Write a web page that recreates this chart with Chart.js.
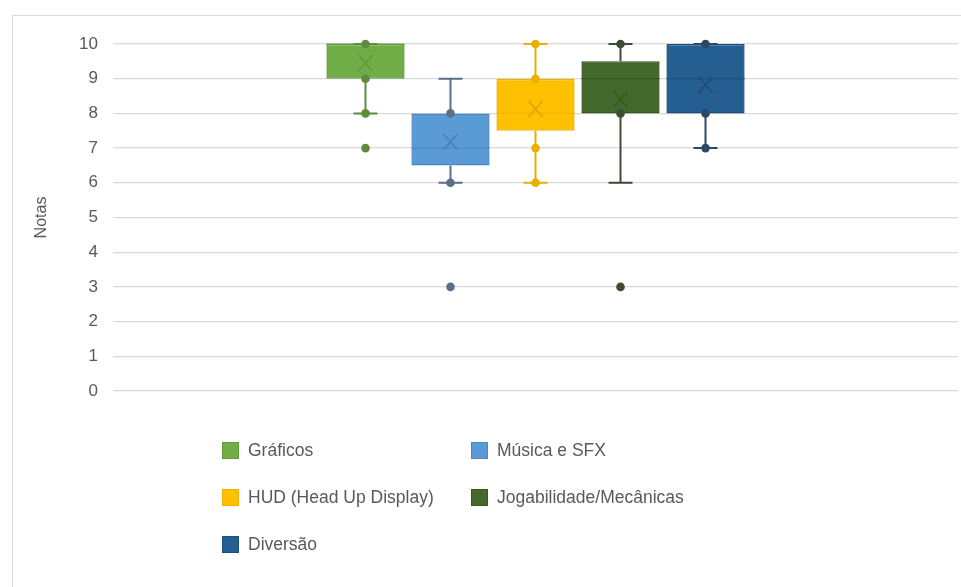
<!DOCTYPE html>
<html>
<head>
<meta charset="utf-8">
<script src="https://cdn.jsdelivr.net/npm/chart.js@4/dist/chart.umd.min.js"></script>
<style>
  html, body { margin: 0; padding: 0; background: #fff; overflow: hidden; }
  #wrap { position: relative; width: 961px; height: 587px; overflow: hidden; }
  #frame { position: absolute; left: 12px; top: 15px; width: 1000px; height: 700px;
           border: 1px solid #d9d9d9; box-sizing: border-box; }
  #chart { position: absolute; left: 0; top: 0; }
  .item { position: absolute; display: flex; align-items: center; height: 20px;
          font-family: 'Liberation Sans', Arial, sans-serif; font-size: 17.5px; color: #595959; white-space: nowrap; }
  .swatch { width: 17px; height: 17px; margin-right: 9px; box-sizing: border-box; }
</style>
</head>
<body>
<div id="wrap">
  <div id="frame"></div>
  <canvas id="chart" width="961" height="587"></canvas>
  <div id="legend"></div>
</div>
<script>
// Rating categories
const categories = ['Gráficos', 'Música e SFX', 'HUD (Head Up Display)', 'Jogabilidade/Mecânicas', 'Diversão'];

// Box-and-whisker statistics per category
const q1Values      = [9,    6.5,  7.5,  8,    8];
const q3Values      = [10,   8,    9,    9.5,  10];
const medianValues  = [10,   7,    8,    9,    9];
const meanValues    = [9.45, 7.18, 8.13, 8.41, 8.82];
const whiskerLow    = [8,    6,    6,    6,    7];
const whiskerHigh   = [10,   9,    10,   10,   10];
const innerPoints   = [[8, 9, 10], [6, 8], [6, 7, 9, 10], [8, 10], [7, 8, 10]];
const outlierPoints = [[7], [3], [], [3], []];

// Y axis ticks
const yTicks = [0, 1, 2, 3, 4, 5, 6, 7, 8, 9, 10];

const fillColors  = ['#70AD47', '#5B9BD5', '#FFC000', '#43682B', '#255E91'];
const edgeColors  = ['#5f9a3b', '#4a88c2', '#eeb200', '#36561f', '#1e4f7b'];
const lineColors  = ['#5d8c3c', '#5a7089', '#e8b000', '#3d4d33', '#2b4866'];
const meanColors  = ['#5f9a3d', '#4a82b8', '#e0a800', '#38561f', '#1f4c75'];

const FONT = "'Liberation Sans', Arial, sans-serif";

// Draws whiskers, caps, medians, means and individual points on top of the floating bars
const boxPlotPlugin = {
  id: 'boxPlotExtras',
  afterDatasetsDraw(chart) {
    const ctx = chart.ctx;
    const y = chart.scales.y;
    categories.forEach((name, i) => {
      const bar = chart.getDatasetMeta(i).data[0];
      if (!bar) return;
      const cx = bar.x;
      const half = bar.width / 2;
      const capHalf = 12;
      ctx.save();
      ctx.lineCap = 'butt';

      // whiskers
      ctx.strokeStyle = lineColors[i];
      ctx.lineWidth = 2;
      ctx.beginPath();
      ctx.moveTo(cx, y.getPixelForValue(q3Values[i]));
      ctx.lineTo(cx, y.getPixelForValue(whiskerHigh[i]));
      ctx.moveTo(cx, y.getPixelForValue(q1Values[i]));
      ctx.lineTo(cx, y.getPixelForValue(whiskerLow[i]));
      // caps
      [whiskerHigh[i], whiskerLow[i]].forEach(v => {
        const py = y.getPixelForValue(v);
        ctx.moveTo(cx - capHalf, py);
        ctx.lineTo(cx + capHalf, py);
      });
      ctx.stroke();

      // median
      ctx.strokeStyle = edgeColors[i];
      ctx.globalAlpha = 0.8;
      ctx.lineWidth = 1.2;
      ctx.beginPath();
      const my = y.getPixelForValue(medianValues[i]);
      ctx.moveTo(cx - half, my);
      ctx.lineTo(cx + half, my);
      ctx.stroke();
      ctx.globalAlpha = 1;

      // mean marker
      const mY = y.getPixelForValue(meanValues[i]);
      ctx.strokeStyle = meanColors[i];
      ctx.lineWidth = 1.6;
      ctx.beginPath();
      ctx.moveTo(cx - 7, mY - 8);
      ctx.lineTo(cx + 7, mY + 8);
      ctx.moveTo(cx + 7, mY - 8);
      ctx.lineTo(cx - 7, mY + 8);
      ctx.stroke();

      // inner points and outliers
      ctx.fillStyle = lineColors[i];
      innerPoints[i].concat(outlierPoints[i]).forEach(v => {
        ctx.beginPath();
        ctx.arc(cx, y.getPixelForValue(v), 4.3, 0, Math.PI * 2);
        ctx.fill();
      });
      ctx.restore();
    });
  }
};

new Chart(document.getElementById('chart'), {
  type: 'bar',
  data: {
    labels: [''],
    datasets: categories.map((name, i) => ({
      label: name,
      data: [[q1Values[i], q3Values[i]]],
      backgroundColor: fillColors[i],
      borderColor: edgeColors[i],
      borderWidth: 1.5,
      borderSkipped: false
    }))
  },
  options: {
    responsive: false,
    animation: false,
    categoryPercentage: 0.503,
    barPercentage: 0.92,
    layout: { padding: { left: 12, top: 44, right: 3, bottom: 196 } },
    plugins: { legend: { display: false }, tooltip: { enabled: false } },
    scales: {
      x: { display: false },
      y: {
        min: 0,
        max: 10,
        afterBuildTicks(scale) { scale.ticks = yTicks.map(v => ({ value: v })); },
        afterFit(scale) { scale.width = 101; },
        ticks: { padding: 15, color: '#595959', font: { family: FONT, size: 17 } },
        grid: { color: '#d9d9d9', lineWidth: 1.3, drawTicks: false },
        border: { display: false },
        title: { display: true, text: 'Notas', color: '#595959',
                 font: { family: FONT, size: 16 }, padding: { top: 20 } }
      }
    }
  },
  plugins: [boxPlotPlugin]
});

// Legend in two columns below the plot
const legend = document.getElementById('legend');
categories.forEach((name, i) => {
  const item = document.createElement('div');
  item.className = 'item';
  item.style.left = (222 + (i % 2) * 249) + 'px';
  item.style.top = (440 + Math.floor(i / 2) * 47) + 'px';
  const sw = document.createElement('span');
  sw.className = 'swatch';
  sw.style.background = fillColors[i];
  sw.style.border = '1px solid ' + edgeColors[i];
  const txt = document.createElement('span');
  txt.textContent = name;
  item.appendChild(sw);
  item.appendChild(txt);
  legend.appendChild(item);
});
</script>
</body>
</html>
